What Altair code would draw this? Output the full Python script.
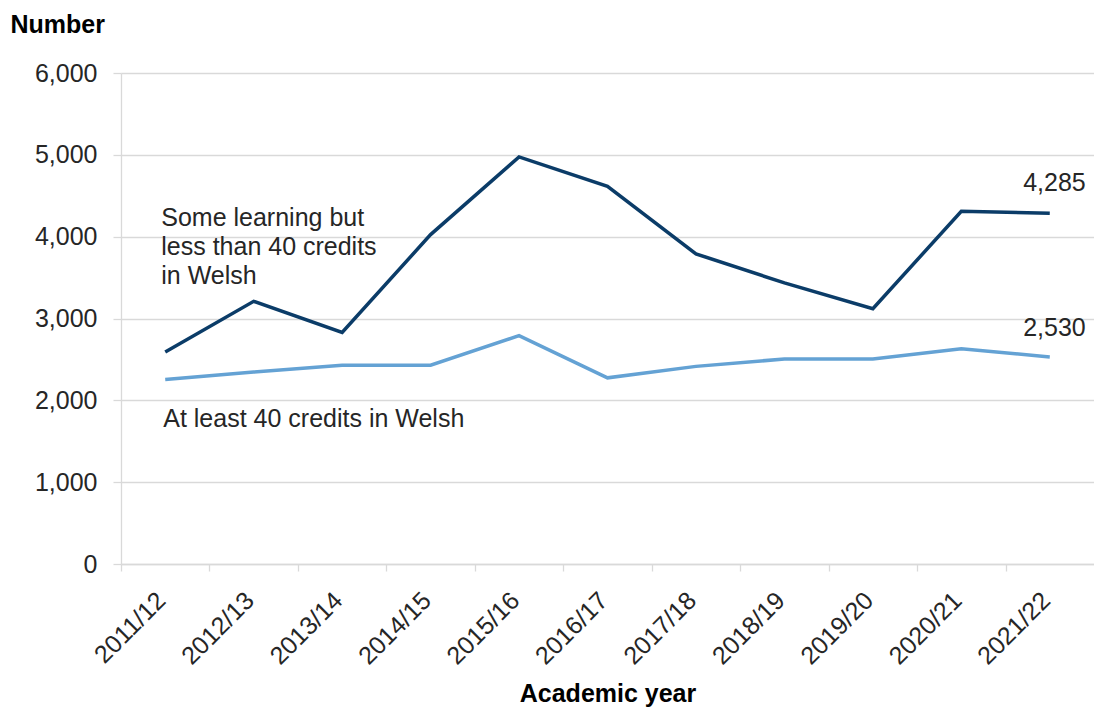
import altair as alt
import pandas as pd

years = ["2011/12", "2012/13", "2013/14", "2014/15", "2015/16", "2016/17",
         "2017/18", "2018/19", "2019/20", "2020/21", "2021/22"]
some_learning = [2590, 3210, 2830, 4025, 4975, 4615, 3790, 3435, 3120, 4310, 4285]
at_least_40 = [2255, 2345, 2430, 2430, 2790, 2275, 2415, 2505, 2505, 2630, 2530]

series_names = ["Some learning but less than 40 credits in Welsh", "At least 40 credits in Welsh"]
series_colors = ["#0b3c68", "#64a2d4"]

FONT = "Liberation Sans"
TXT = "#262626"
GRID = "#d9d9d9"
FS = 25

rows = []
for y, a, b in zip(years, some_learning, at_least_40):
    rows.append({"year": y, "series": series_names[0], "value": a})
    rows.append({"year": y, "series": series_names[1], "value": b})
df = pd.DataFrame(rows)

x_enc = alt.X(
    "year:N", sort=years,
    scale=alt.Scale(type="point", padding=0.5),
    axis=alt.Axis(
        title="Academic year", titleFont=FONT, titleFontSize=FS, titleFontWeight="bold",
        titleColor="#000000", titlePadding=12,
        labelAngle=-45, labelFont=FONT, labelFontSize=25, labelColor=TXT,
        labelAlign="right", labelBaseline="middle",
        tickOffset=-44.2, labelOffset=40, tickSize=7, tickColor=GRID, tickWidth=1.3,
        labelPadding=25, domain=True, domainColor=GRID, domainWidth=1.3, grid=False,
    ),
)
y_enc = alt.Y(
    "value:Q",
    scale=alt.Scale(domain=[0, 6000], nice=False),
    axis=alt.Axis(
        values=[0, 1000, 2000, 3000, 4000, 5000, 6000], format=",.0f",
        grid=True, gridColor=GRID, gridWidth=1.3,
        domain=True, domainColor=GRID, domainWidth=1.3, tickColor=GRID, tickSize=8, tickWidth=1.3,
        labelFont=FONT, labelFontSize=FS, labelColor=TXT, labelPadding=16,
        title="Number", titleAngle=0, titleAlign="left", titleBaseline="middle",
        titleX=-111, titleY=-49, titleFont=FONT, titleFontSize=FS,
        titleFontWeight="bold", titleColor="#000000",
    ),
)

lines = alt.Chart(df).mark_line(strokeWidth=3.5).encode(
    x=x_enc,
    y=y_enc,
    color=alt.Color("series:N", scale=alt.Scale(domain=series_names, range=series_colors), legend=None),
)

# annotations
label_some = ["Some learning but", "less than 40 credits", "in Welsh"]
label_at_least = "At least 40 credits in Welsh"

ann_some = alt.Chart().mark_text(
    text=label_some, align="left", baseline="middle", font=FONT, fontSize=FS,
    color=TXT, lineHeight=29, dx=-4,
).encode(x=alt.datum(years[0]), y=alt.datum(4230))

ann_at = alt.Chart().mark_text(
    text=label_at_least, align="left", baseline="middle", font=FONT, fontSize=FS,
    color=TXT, dx=-2,
).encode(x=alt.datum(years[0]), y=alt.datum(1770))

end_some = alt.Chart().mark_text(
    text=f"{some_learning[-1]:,}", align="right", baseline="middle", font=FONT,
    fontSize=FS, color=TXT, dx=36, dy=-30,
).encode(x=alt.datum(years[-1]), y=alt.datum(some_learning[-1]))

end_at = alt.Chart().mark_text(
    text=f"{at_least_40[-1]:,}", align="right", baseline="middle", font=FONT,
    fontSize=FS, color=TXT, dx=36, dy=-29,
).encode(x=alt.datum(years[-1]), y=alt.datum(at_least_40[-1]))

chart = alt.layer(lines, ann_some, ann_at, end_some, end_at).properties(
    width=973, height=491,
    autosize=alt.AutoSizeParams(type="none"),
    padding={"left": 121, "top": 73, "right": 0, "bottom": 145},
    background="white",
).configure_view(stroke=None)

chart.save("out.html", embed_options={"renderer": "svg", "actions": False})
